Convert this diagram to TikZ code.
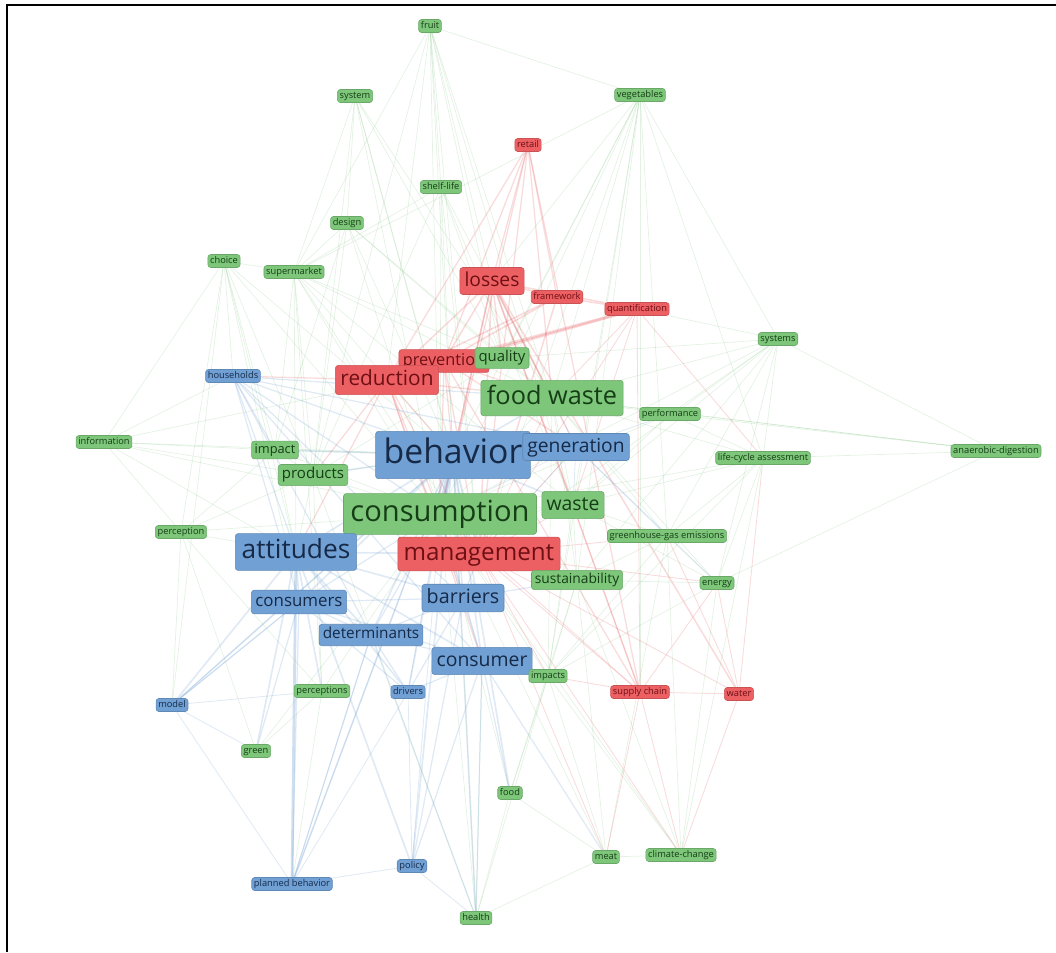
\documentclass[tikz,border=0pt]{standalone}
\usepackage{fontspec}
\setsansfont{Open Sans}
\usetikzlibrary{backgrounds}
\definecolor{kwgreen}{RGB}{125,198,122}
\definecolor{kwred}{RGB}{236,96,100}
\definecolor{kwblue}{RGB}{112,160,212}
\definecolor{txgreen}{RGB}{22,62,22}
\definecolor{txred}{RGB}{110,15,20}
\definecolor{txblue}{RGB}{22,42,72}
\definecolor{lngreen}{RGB}{120,190,120}
\definecolor{lnred}{RGB}{230,90,95}
\definecolor{lnblue}{RGB}{100,150,205}

\begin{document}
\begin{tikzpicture}[x=0.025cm, y=-0.025cm,
    fsz/.style={font=\sffamily\fontsize{#1pt}{#1pt}\selectfont, text height={0.74*#1pt}, text depth={0.22*#1pt}, inner ysep={0.22*#1pt}, inner xsep={0.24*#1pt}},
    keyword/.style={rectangle, rounded corners=2pt, line width=0.4pt, fsz=6.6},
    gkw/.style={keyword, fill=kwgreen, draw=kwgreen!85!black, text=txgreen},
    rkw/.style={keyword, fill=kwred, draw=kwred!85!black, text=txred},
    bkw/.style={keyword, fill=kwblue, draw=kwblue!85!black, text=txblue},
    gline/.style={lngreen, draw opacity=0.2, line width=0.5pt},
    rline/.style={lnred, draw opacity=0.22, line width=0.6pt},
    bline/.style={lnblue, draw opacity=0.2, line width=0.6pt}
]
\useasboundingbox (0,0) rectangle (1056,952);
\draw[line width=2pt] (7,952) -- (7,5) -- (1056,5);

\node[gkw] (fruit) at (430,26) {fruit};
\node[gkw] (system) at (355,96) {system};
\node[gkw] (vegetables) at (640,95) {vegetables};
\node[rkw] (retail) at (528,145) {retail};
\node[gkw] (shelflife) at (441,187) {shelf-life};
\node[gkw] (design) at (347,223) {design};
\node[gkw] (choice) at (224,261) {choice};
\node[gkw] (supermarket) at (294,272) {supermarket};
\node[rkw, fsz=13.7] (losses) at (492,281) {losses};
\node[rkw] (framework) at (557,297) {framework};
\node[rkw] (quantification) at (637,309) {quantification};
\node[gkw] (systems) at (778,339) {systems};
\node[rkw, fsz=11.6] (prevention) at (444,361) {prevention};
\node[gkw, fsz=10.6] (quality) at (502,358) {quality};
\node[bkw] (households) at (233,376) {households};
\node[rkw, fsz=14.8] (reduction) at (387,380) {reduction};
\node[gkw, fsz=18] (foodwaste) at (552,398) {food waste};
\node[gkw] (performance) at (670,414) {performance};
\node[gkw] (information) at (104,442) {information};
\node[gkw, fsz=9.1] (impact) at (275,450) {impact};
\node[bkw, fsz=24] (behavior) at (453,455) {behavior};
\node[bkw, fsz=13.7] (generation) at (576,447) {generation};
\node[gkw] (lca) at (763,458) {life-cycle assessment};
\node[gkw] (anaerobic) at (996,451) {anaerobic-digestion};
\node[gkw, fsz=10.7] (products) at (313,475) {products};
\node[gkw, fsz=20.7] (consumption) at (440,514) {consumption};
\node[gkw, fsz=13.8] (waste) at (573,505) {waste};
\node[gkw] (perception) at (181,532) {perception};
\node[gkw] (ghg) at (667,536) {greenhouse-gas emissions};
\node[bkw, fsz=18.7] (attitudes) at (296,552) {attitudes};
\node[rkw, fsz=17.2] (management) at (479,554) {management};
\node[gkw, fsz=9.8] (sustainability) at (577,580) {sustainability};
\node[gkw] (energy) at (717,583) {energy};
\node[bkw, fsz=12] (consumers) at (299,602) {consumers};
\node[bkw, fsz=14] (barriers) at (463,598) {barriers};
\node[bkw, fsz=10.9] (determinants) at (371,635) {determinants};
\node[bkw, fsz=13.8] (consumer) at (482,661) {consumer};
\node[gkw] (impacts) at (548,676) {impacts};
\node[gkw] (perceptions) at (322,691) {perceptions};
\node[bkw] (drivers) at (408,692) {drivers};
\node[rkw] (supplychain) at (640,692) {supply chain};
\node[rkw] (water) at (739,694) {water};
\node[bkw] (model) at (172,705) {model};
\node[gkw] (green) at (256,751) {green};
\node[gkw] (food) at (510,793) {food};
\node[gkw] (meat) at (606,857) {meat};
\node[gkw] (climate) at (681,855) {climate-change};
\node[bkw] (policy) at (412,866) {policy};
\node[bkw] (planned) at (292,884) {planned behavior};
\node[gkw] (health) at (476,918) {health};

\begin{scope}[on background layer]
\foreach \t in {vegetables,shelflife,quality,foodwaste,consumption,behavior,waste,losses,products,supermarket,reduction,management}
  \draw[gline] (fruit.center) -- (\t.center);
\foreach \t in {foodwaste,consumption,waste,management,quality,losses,behavior,supplychain,impacts,sustainability,ghg,systems,supermarket,lca}
  \draw[gline] (vegetables.center) -- (\t.center);
\foreach \t in {design,supermarket,foodwaste,consumption,products,quality,management,behavior}
  \draw[gline] (system.center) -- (\t.center);
\foreach \t in {quality,foodwaste,consumption,products,supermarket,waste,behavior,management}
  \draw[gline] (shelflife.center) -- (\t.center);
\foreach \t in {consumption,behavior,products,foodwaste,supermarket,quality,impact}
  \draw[gline] (design.center) -- (\t.center);
\foreach \t in {supermarket,information,households,perception,attitudes,consumption,behavior,products,impact,consumers,model}
  \draw[gline] (choice.center) -- (\t.center);
\foreach \t in {consumption,behavior,foodwaste,products,quality,attitudes,waste,perceptions,management,impact}
  \draw[gline] (supermarket.center) -- (\t.center);
\foreach \t in {performance,lca,foodwaste,ghg,energy,consumption,anaerobic,management,sustainability,waste,quality,quantification}
  \draw[gline] (systems.center) -- (\t.center);
\foreach \t in {consumption,waste,quality,performance,lca,anaerobic,ghg,sustainability,impacts,energy}
  \draw[gline] (foodwaste.center) -- (\t.center);
\foreach \t in {anaerobic,lca,consumption,waste}
  \draw[gline] (performance.center) -- (\t.center);
\foreach \t in {anaerobic,ghg,energy,impacts,climate,waste,consumption}
  \draw[gline] (lca.center) -- (\t.center);
\foreach \t in {foodwaste,energy}
  \draw[gline] (anaerobic.center) -- (\t.center);
\foreach \t in {impact,products,consumption,perception,behavior,attitudes,households,quality}
  \draw[gline] (information.center) -- (\t.center);
\foreach \t in {products,consumption,behavior,perception,attitudes}
  \draw[gline] (impact.center) -- (\t.center);
\foreach \t in {consumption,behavior,quality,attitudes,perception,perceptions,health}
  \draw[gline] (products.center) -- (\t.center);
\foreach \t in {waste,sustainability,impacts,food,health,meat,climate,perceptions,green,perception}
  \draw[gline] (consumption.center) -- (\t.center);
\foreach \t in {sustainability,ghg,energy,impacts}
  \draw[gline] (waste.center) -- (\t.center);
\foreach \t in {perceptions,attitudes,green,model}
  \draw[gline] (perception.center) -- (\t.center);
\foreach \t in {energy,climate,impacts,meat,sustainability}
  \draw[gline] (ghg.center) -- (\t.center);
\foreach \t in {impacts,energy,meat,climate,food}
  \draw[gline] (sustainability.center) -- (\t.center);
\foreach \t in {climate,impacts}
  \draw[gline] (energy.center) -- (\t.center);
\foreach \t in {food,meat,climate,health}
  \draw[gline] (impacts.center) -- (\t.center);
\foreach \t in {green,planned}
  \draw[gline] (perceptions.center) -- (\t.center);
\foreach \t in {health,meat}
  \draw[gline] (food.center) -- (\t.center);
\foreach \t in {climate,health}
  \draw[gline] (meat.center) -- (\t.center);
\foreach \t in {health,consumer,behavior}
  \draw[gline] (health.center) -- (\t.center);

\foreach \t in {reduction,prevention,losses,management,consumption,foodwaste,supplychain,framework}
  \draw[rline, line width=0.9pt] (retail.center) -- (\t.center);
\foreach \t in {framework,quantification,prevention,reduction,management,foodwaste,consumption,supplychain,water,waste,quality,behavior,generation}
  \draw[rline, line width=1.1pt] (losses.center) -- (\t.center);
\foreach \t in {quantification,prevention,reduction,management}
  \draw[rline, line width=1.1pt] (framework.center) -- (\t.center);
\foreach \t in {prevention,reduction}
  \draw[rline, line width=2pt] (quantification.center) -- (\t.center);
\foreach \t in {management,supplychain,waste,foodwaste,lca}
  \draw[rline] (quantification.center) -- (\t.center);
\foreach \t in {reduction,management,foodwaste,consumption,behavior,generation,supplychain}
  \draw[rline, line width=0.9pt] (prevention.center) -- (\t.center);
\foreach \t in {management,consumption,foodwaste,behavior,attitudes,households,products,consumer,barriers}
  \draw[rline, line width=0.9pt] (reduction.center) -- (\t.center);
\foreach \t in {supplychain,water,consumption,waste,foodwaste,generation,sustainability,ghg,energy,impacts,climate,meat}
  \draw[rline] (management.center) -- (\t.center);
\foreach \t in {water,consumption,waste,climate,meat,impacts,energy}
  \draw[rline] (supplychain.center) -- (\t.center);
\foreach \t in {energy,ghg,climate,lca}
  \draw[rline] (water.center) -- (\t.center);

\foreach \t in {behavior,attitudes,consumers,determinants,consumer,barriers,generation,consumption,impact,foodwaste}
  \draw[bline, line width=0.9pt] (households.center) -- (\t.center);
\draw[bline, line width=4pt, draw opacity=0.3] (behavior.center) -- (consumption.center);
\foreach \t in {attitudes,generation,consumers,barriers,determinants,consumer,products,impact,foodwaste,drivers,policy,planned,model,health,food,management,waste}
  \draw[bline, line width=1.2pt] (behavior.center) -- (\t.center);
\draw[bline, line width=2pt, draw opacity=0.3] (attitudes.center) -- (planned.center);
\foreach \t in {consumers,determinants,barriers,consumer,perceptions,drivers,model,consumption,green,policy,management}
  \draw[bline, line width=1.2pt] (attitudes.center) -- (\t.center);
\foreach \t in {determinants,consumer,barriers,planned,drivers,model,consumption,green}
  \draw[bline, line width=0.9pt] (consumers.center) -- (\t.center);
\foreach \t in {consumer,barriers,drivers,planned,consumption,health}
  \draw[bline, line width=0.9pt] (determinants.center) -- (\t.center);
\foreach \t in {barriers,drivers,policy,impacts,food,health,consumption,meat}
  \draw[bline, line width=0.9pt] (consumer.center) -- (\t.center);
\foreach \t in {consumption,drivers,policy,management,sustainability}
  \draw[bline, line width=0.9pt] (barriers.center) -- (\t.center);
\foreach \t in {policy,planned,consumption}
  \draw[bline] (drivers.center) -- (\t.center);
\foreach \t in {planned,behavior,green,perceptions,consumers}
  \draw[bline] (model.center) -- (\t.center);
\foreach \t in {planned,health,consumption}
  \draw[bline] (policy.center) -- (\t.center);
\foreach \t in {determinants,behavior}
  \draw[bline] (planned.center) -- (\t.center);
\foreach \t in {foodwaste,consumption,waste,management,energy,ghg,performance}
  \draw[bline] (generation.center) -- (\t.center);
\end{scope}
\end{tikzpicture}
\end{document}
